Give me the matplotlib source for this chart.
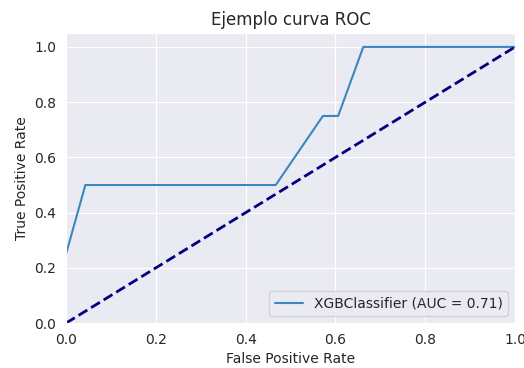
import numpy as np
import matplotlib
matplotlib.use("Agg")
import matplotlib.pyplot as plt
import seaborn as sns

sns.set_style("darkgrid")
plt.rcParams['font.family'] = ['DejaVu Sans']

# 曲線ROCのデータ
fpr = [0.0, 0.043, 0.467, 0.572, 0.606, 0.662, 1.0]
tpr = [0.25, 0.5, 0.5, 0.75, 0.75, 1.0, 1.0]
auc_label = "XGBClassifier (AUC = 0.71)"
diag = [0.0, 1.0]

fig = plt.figure(figsize=(5.24, 3.68), dpi=100)
ax = fig.add_subplot(1, 1, 1)

ax.plot(fpr, tpr, color="#3a87c0", linewidth=1.5, label=auc_label)
ax.plot(diag, diag, color="navy", lw=2, linestyle="--")

ax.set_xlim(0.0, 1.0)
ax.set_ylim(0.0, 1.05)
ax.set_xlabel("False Positive Rate")
ax.set_ylabel("True Positive Rate")
ax.set_title("Ejemplo curva ROC")
ax.legend(loc="lower right")

plt.subplots_adjust(left=0.126, right=0.983, bottom=0.122, top=0.91)
fig.savefig("out.png", dpi=100)
